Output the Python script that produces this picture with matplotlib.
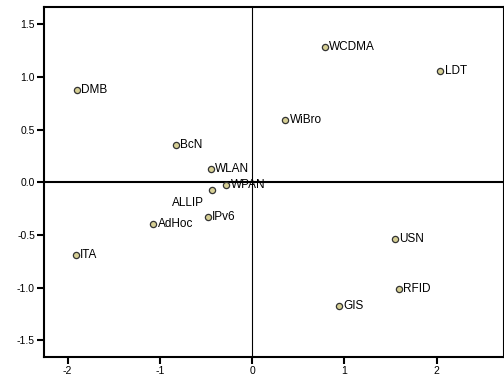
import matplotlib.pyplot as plt

# object scores
names = ["DMB", "BcN", "WLAN", "WPAN", "ALLIP", "IPv6", "AdHoc", "ITA",
         "WCDMA", "LDT", "WiBro", "USN", "RFID", "GIS"]
xs = [-1.90, -0.83, -0.45, -0.28, -0.44, -0.48, -1.07, -1.91,
      0.79, 2.04, 0.36, 1.55, 1.59, 0.94]
ys = [0.88, 0.35, 0.13, -0.03, -0.07, -0.33, -0.40, -0.69,
      1.29, 1.06, 0.59, -0.54, -1.01, -1.18]

xticks = [-2, -1, 0, 1, 2]
yticks = [-1.5, -1.0, -0.5, 0.0, 0.5, 1.0, 1.5]

plt.rcParams['font.family'] = ['Liberation Sans', 'DejaVu Sans']

fig = plt.figure(figsize=(5.04, 3.84), dpi=100)
ax = fig.add_axes([0.0873, 0.0703, 0.9127, 0.9115])

ax.axhline(0, color="black", lw=1.5, zorder=1)
ax.axvline(0, color="black", lw=0.8, zorder=1)

ax.scatter(xs, ys, s=20, c="#d6cf94", edgecolors="#333333", linewidths=0.9, zorder=3)

for name, x, y in zip(names, xs, ys):
    if name == "ALLIP":
        ax.annotate(name, (x, y), xytext=(-17, -9.5), textcoords="offset points",
                    ha="center", va="center", fontsize=8.5)
    else:
        ax.annotate(name, (x, y), xytext=(3, 0), textcoords="offset points",
                    ha="left", va="center", fontsize=8.5)

ax.set_xlim(-2.257, 2.73)
ax.set_ylim(-1.66, 1.666)
ax.set_xticks(xticks)
ax.set_xticklabels([str(t) for t in xticks])
ax.set_yticks(yticks)
ax.set_yticklabels(["%.1f" % t for t in yticks])
ax.tick_params(length=5, width=1.5, labelsize=7.5, pad=1.5)

for s in ax.spines.values():
    s.set_linewidth(1.5)

fig.savefig("out.png", dpi=100)
